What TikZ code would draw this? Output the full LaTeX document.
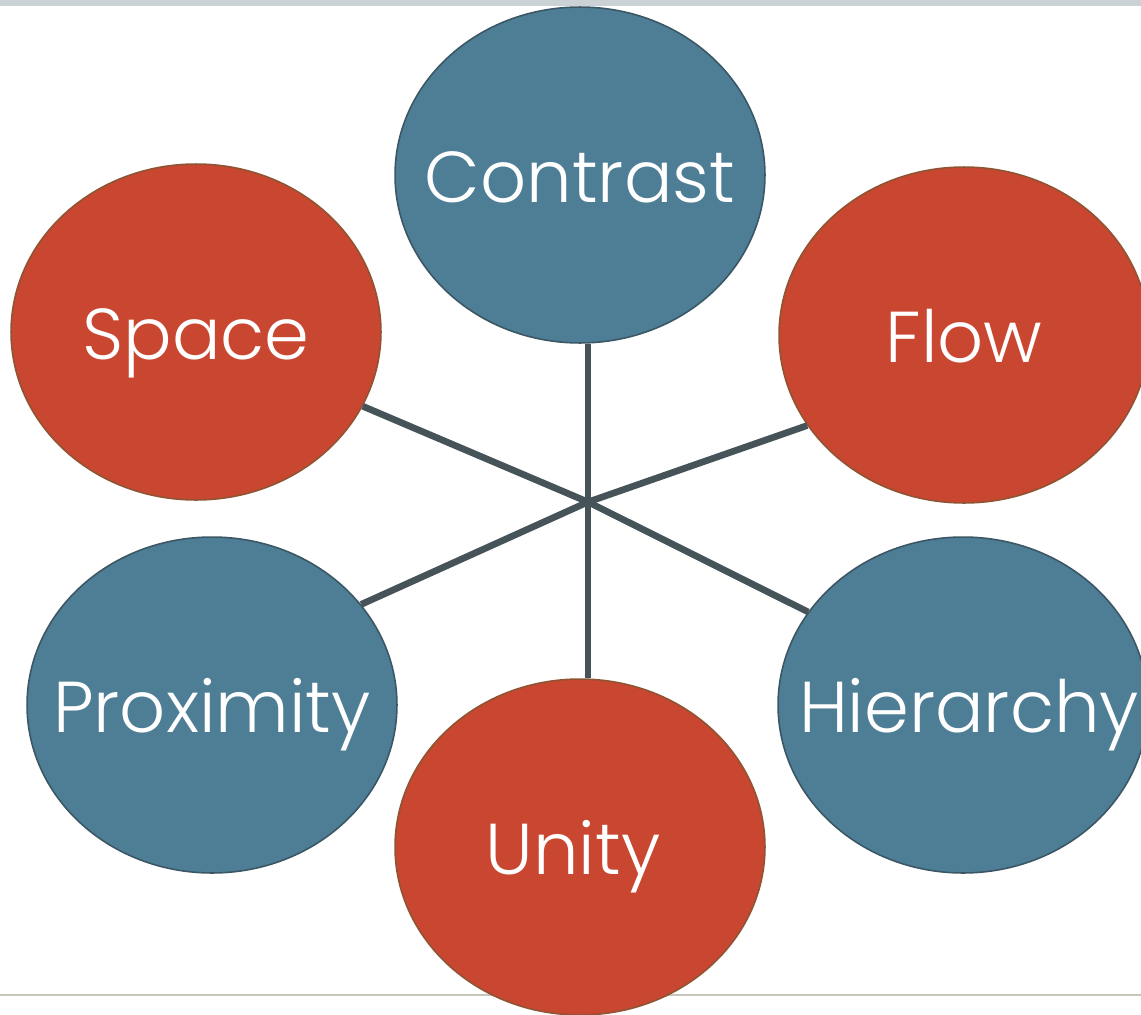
\documentclass[tikz,border=0pt]{standalone}
\usepackage{fontspec}
\setmainfont{Poppins}[UprightFont=* Light]
\usepackage{tikz}
\usetikzlibrary{shapes.geometric}

\definecolor{tealfill}{HTML}{4E7E95}
\definecolor{tealedge}{HTML}{3B5664}
\definecolor{brickfill}{HTML}{C94630}
\definecolor{brickedge}{HTML}{8E5434}
\definecolor{spokecolor}{HTML}{46545A}
\definecolor{barcolor}{HTML}{CBD2D6}
\definecolor{rulecolor}{HTML}{C6C6BA}

\begin{document}
\begin{tikzpicture}[x=0.02cm, y=-0.02cm,
        bubble/.style={ellipse, line width=0.9pt, minimum width=7.4cm, minimum height=6.72cm, inner sep=0pt},
        bluebubble/.style={bubble, fill=tealfill, draw=tealedge},
        redbubble/.style={bubble, fill=brickfill, draw=brickedge},
        word/.style={text=white, font=\fontsize{41}{48}\selectfont, text height=1.1cm, text depth=0pt, inner sep=0pt},
        spoke/.style={spokecolor, line width=3.8pt}]
        \useasboundingbox (0,0) rectangle (1141,1014);
        \fill[barcolor] (0,0) rectangle (1141,6);
        \draw[rulecolor, line width=1.2pt] (0,995) -- (1141,995);

        \coordinate (hub) at (588,502);

        \node[bluebubble, label={[word]center:Contrast}] (contrast) at (580,175) {};
        \node[redbubble, label={[word]center:Space}] (space) at (196,332) {};
        \node[redbubble, label={[word]center:Flow}] (flow) at (964,335) {};
        \node[bluebubble, label={[word]center:Proximity}] (proximity) at (212,705) {};
        \node[bluebubble, label={[word, xshift=0.12cm]center:Hierarchy}] (hierarchy) at (963,705) {};
        \node[redbubble, label={[word, xshift=-0.14cm]center:Unity}] (unity) at (580,847) {};

        \draw[spoke] (hub) -- (contrast.south -| hub);
        \draw[spoke] (hub) -- (unity.north -| hub);
        \draw[spoke] (hub) -- (space.-24);
        \draw[spoke] (hub) -- (flow.-150);
        \draw[spoke] (hub) -- (proximity.34);
        \draw[spoke] (hub) -- (hierarchy.149);
\end{tikzpicture}
\end{document}
